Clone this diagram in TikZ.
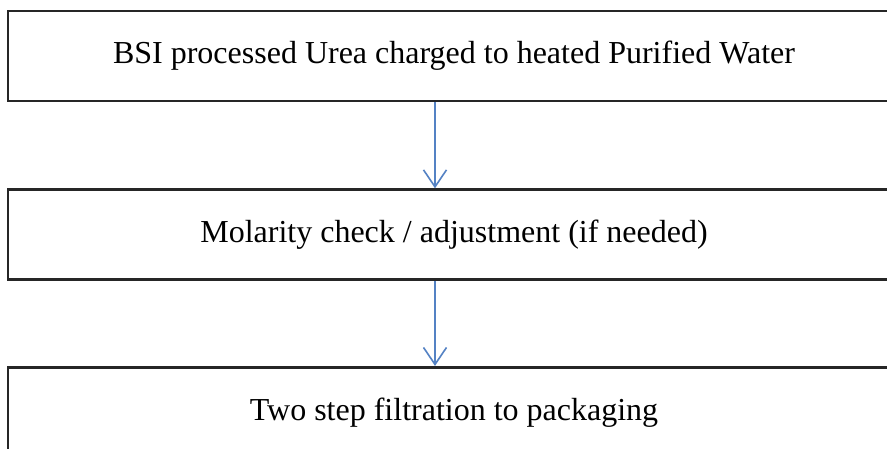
\documentclass[tikz,border=0pt]{standalone}
\usepackage{fontspec}
\setmainfont{Liberation Serif}
\usetikzlibrary{positioning,arrows.meta}
\definecolor{stepblue}{RGB}{84,130,196}
\tikzset{
    stage/.style={
        draw=black!85,
        line width=2.6pt,
        minimum width=892pt,
        minimum height=90pt,
        inner sep=0pt,
        font=\fontsize{32}{38}\selectfont,
    },
    flow/.style={
        stepblue,
        line width=1.6pt,
        -{Straight Barb[length=17pt,width=23pt,line width=1.6pt]},
    },
}
\begin{document}
\begin{tikzpicture}[x=1pt,y=1pt]
    % page frame, the right side of the boxes runs out of it
    \clip (0,0) rectangle (887,-449);
    \fill[white] (0,0) rectangle (887,-449);
    % the three stages
    \node[stage] (urea) at (454,-56) {BSI processed Urea charged to heated Purified Water};
    \node[stage, below=86pt of urea] (molarity) {Molarity check / adjustment (if needed)};
    \node[stage, below=85pt of molarity] (filtration) {Two step filtration to packaging};
    % arrows between them
    \draw[flow] ([xshift=-19pt]urea.south) -- ([xshift=-19pt]molarity.north);
    \draw[flow] ([xshift=-19pt]molarity.south) -- ([xshift=-19pt]filtration.north);
\end{tikzpicture}
\end{document}
